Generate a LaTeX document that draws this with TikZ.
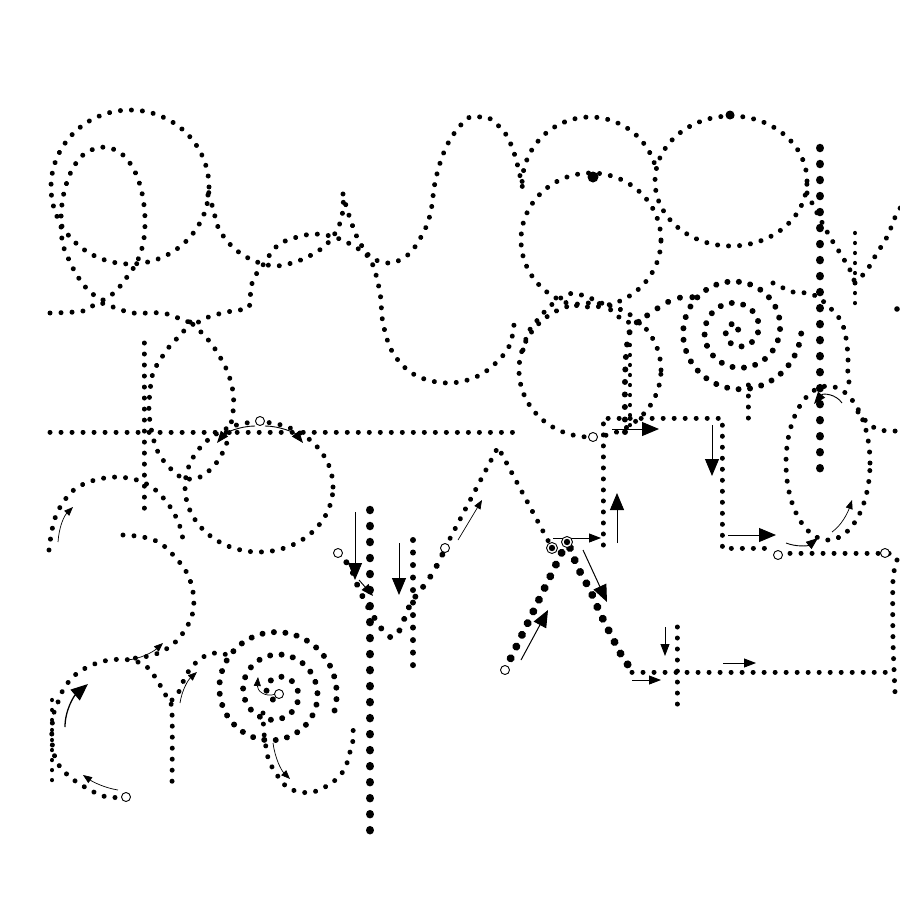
\documentclass[tikz,border=0pt]{standalone}
\usetikzlibrary{arrows.meta}
\tikzset{
  dotS/.style={line width=5pt, dash pattern=on 0.01pt off 11pt, line cap=round},
  dotSp/.style={line width=6pt, dash pattern=on 0.01pt off 11.5pt, line cap=round},
  dotT/.style={line width=4.3pt, dash pattern=on 0.01pt off 10pt, line cap=round},
  dotM/.style={line width=6pt, dash pattern=on 0.01pt off 12.5pt, line cap=round},
  dotL/.style={line width=8.5pt, dash pattern=on 0.01pt off 16pt, line cap=round},
  dotLL/.style={line width=8pt, dash pattern=on 0.01pt off 13pt, line cap=round},
  thinarr/.style={line width=0.7pt, -{Triangle[length=9pt,width=7pt]}},
  medarr/.style={line width=0.9pt, -{Triangle[length=12pt,width=9pt]}},
  bigarr/.style={line width=1pt, -{Triangle[length=17pt,width=14pt]}},
  ocirc/.style={fill=white, line width=0.9pt},
}
\begin{document}
\begin{tikzpicture}[x=1pt,y=-1pt]
\useasboundingbox (0,0) rectangle (900,900);
\fill[white] (0,0) rectangle (900,900);

% ---- top left: circle and loops
\draw[dotS] (130,187) ellipse [x radius=79pt, y radius=77pt];
\draw[dotS] plot[smooth, tension=0.6] coordinates {(103,300) (90,292) (78,277) (70,262) (63,245) (61,225) (62,204) (66,185) (73,168) (83,155) (97,148) (110,148) (123,155) (133,168) (140,185) (144,205) (145,225) (143,244) (137,262) (127,277) (115,292) (103,300)};
\draw[dotS] plot[smooth, tension=0.6] coordinates {(50,313) (83,311) (98,303) (113,307) (133,313) (162,313) (181,319) (195,323) (211,316) (232,311) (248,308) (250,298) (253,280) (263,265) (277,246) (294,238) (315,234) (337,238) (360,250) (372,263) (380,293) (383,323) (393,353) (415,375) (448,383) (480,375) (505,353) (513,333) (514,315)};
\draw[dotS] plot[smooth, tension=0.6] coordinates {(208,195) (213,208) (218,227) (228,242) (240,253) (257,262) (277,266) (298,261) (313,254) (327,244) (338,228) (343,210) (343,194)};
\draw[dotS] plot[smooth, tension=0.6] coordinates {(343,194) (347,209) (353,227) (360,243) (372,258) (391,263) (409,254) (421,237) (428,222) (432,205) (434,188) (438,170) (444,152) (453,135) (468,118) (479,117) (489,118) (505,133) (513,150) (518,167) (523,190)};

% ---- top middle/right circles
\draw[dotS] plot[domain=177:13, samples=40, variable=\t] ({590+68*cos(\t)},{185-68*sin(\t)});
\draw[dotS] (731,181) ellipse [x radius=76pt, y radius=65pt];
\fill (730,115) circle [radius=4.5pt];
\draw[dotS] (591,240) ellipse [x radius=70pt, y radius=67pt];
\fill (593,177) circle [radius=5.5pt];
\draw[dotS] (590,370) ellipse [x radius=71pt, y radius=67pt];
\draw[dotS] plot[smooth, tension=0.6] coordinates {(523,350) (528,333) (535,323) (548,308) (558,300) (568,294) (578,294) (595,300) (605,305) (613,312) (623,320) (632,323) (640,323)};
\draw[dotM] plot[smooth, tension=0.6] coordinates {(625,432) (625,380) (627,345) (632,327) (645,317) (658,308) (670,301) (684,297) (700,298)};
\draw[dotT] (630,345) -- (630,430);

% Y shape
\draw[dotS] plot[smooth, tension=0.6] coordinates {(807,193) (812,203) (817,213) (830,237) (840,253) (850,270) (855,283)};
\draw[dotS] plot[smooth, tension=0.6] coordinates {(855,283) (867,270) (877,253) (887,237) (897,213) (903,205)};
\draw[dotT] (855,233) -- (855,312);
\fill (897,309) circle [radius=2.8pt];

% right spiral
\draw[dotSp] plot[domain=20:1080, samples=300, variable=\t] ({737+\t/360*21.5*cos(\t)},{330-\t/360*21.5*sin(\t)});
\draw[dotS] (748,385) -- (748,425);
\draw[dotS] plot[smooth, tension=0.6] coordinates {(773,283) (793,292) (807,293) (818,297) (827,305) (835,313) (842,323) (846,338) (848,357) (848,377) (852,392)};

% big vertical x=820
\draw[dotL] (820,148) -- (820,478);

% ellipse right
\draw[dotS] (828,463) ellipse [x radius=42pt, y radius=77pt];
\draw[dotS] plot[smooth, tension=0.6] coordinates {(858,412) (868,423) (880,430) (900,431)};

% long horizontal y=432
\draw[dotS] (50,432) -- (520,432);
% vertical x=144
\draw[dotS] (144,343) -- (144,515);

% lower teardrop
\draw[dotS] plot[smooth, tension=0.6] coordinates {(190,322) (180,336) (173,342) (162,357) (153,373) (150,392) (149,412) (152,433) (157,450) (163,460) (172,470) (183,478) (198,478) (213,467) (223,452) (227,442) (233,412) (233,392) (228,373) (220,357) (210,342) (197,328) (190,322)};

% circle H
\draw[dotS] (259,487) ellipse [x radius=74pt, y radius=65pt];

% arc I
\draw[dotS] plot[smooth, tension=0.6] coordinates {(49,550) (52,530) (57,513) (67,497) (78,487) (95,480) (116,477) (137,480) (153,488) (165,500) (175,515) (182,533) (182,543)};
% J1
\draw[dotS] plot[smooth, tension=0.6] coordinates {(123,535) (143,537) (160,543) (175,557) (187,573) (193,592) (193,612) (185,630) (172,645) (153,655) (127,659)};
% J2
\draw[dotS] plot[smooth, tension=0.6] coordinates {(126,797) (107,797) (90,790) (70,777) (57,762) (52,742) (53,717) (57,705) (63,690) (75,675) (92,665) (110,660) (130,660) (147,667) (160,685) (168,700) (172,712) (172,785)};
\draw[dotT] (52,700) -- (52,790);
% e arc
\draw[dotS] plot[smooth, tension=0.6] coordinates {(172,700) (180,690) (185,677) (192,667) (200,659) (210,654) (220,653) (230,656)};
% spiral K
\draw[dotSp] plot[domain=20:1100, samples=300, variable=\t] ({279-\t/1100*7+\t/360*21.5*cos(\t)},{694-\t/1100*3+\t/360*21.5*sin(\t)});
\draw[dotS] plot[smooth, tension=0.6] coordinates {(263,713) (264,733) (267,753) (270,763) (277,775) (287,787) (300,792) (313,792) (325,787) (333,782) (342,773) (347,763) (350,752) (353,740) (353,723)};

% M / V
\draw[dotL] (370,510) -- (370,838);
\draw[dotM] (413,540) -- (413,666);
\draw[dotM] plot[smooth, tension=0.5] coordinates {(338,553) (347,563) (353,573) (358,587) (367,605) (377,622) (384,632) (390,637) (397,635) (403,622) (410,605) (418,593) (427,582) (433,572) (440,560) (445,548)};
\draw[dotS] (445,548) -- (498,447) -- (552,548);

% Lambda bottom
\draw[dotLL] (505,670) -- (562,552);
\draw[dotLL] plot[smooth, tension=0.4] coordinates {(570,548) (578,568) (590,590) (600,613) (612,637) (623,658) (632,670)};
\draw[dotS] (632,672) -- (895,672);
\draw[dotS] (677,627) -- (677,710);
\draw[dotS] plot[smooth, tension=0.5] coordinates {(897,560) (893,580) (893,640) (895,692)};

% rectangle path
\draw[dotS] (603,545) -- (603,418) -- (722,418) -- (722,548) -- (770,548);
\draw[dotS] (790,553) -- (900,553);

% ---- arrows
\draw[medarr] (255,426) .. controls (240,426) and (225,433) .. (217,443);
\draw[medarr] (265,426) .. controls (280,426) and (295,433) .. (303,443);
\draw[thinarr] (58,542) .. controls (59,527) and (64,516) .. (73,507);
\draw[thinarr] (127,660) .. controls (140,659) and (153,652) .. (163,643);
\draw[bigarr, line width=1.3pt] (65,727) .. controls (65,710) and (74,696) .. (88,684);
\draw[thinarr] (118,790) .. controls (105,788) and (93,782) .. (83,775);
\draw[thinarr] (180,703) .. controls (182,690) and (188,680) .. (197,672);
\draw[thinarr] (276,694) .. controls (264,698) and (257,690) .. (258,677);
\draw[thinarr] (273,743) .. controls (275,758) and (281,770) .. (290,779);
\draw[bigarr] (355,512) -- (355,580);
\draw[bigarr] (399,543) -- (399,595);
\draw[medarr] (359,580) -- (373,596);
\draw[thinarr] (458,540) -- (482,500);
\draw[bigarr] (521,660) -- (548,610);
\draw[medarr] (553,538) -- (601,538);
\draw[bigarr] (583,550) -- (607,602);
\draw[bigarr] (617,543) -- (617,493);
\draw[bigarr] (612,429) -- (659,429);
\draw[bigarr] (712,425) -- (712,476);
\draw[bigarr] (728,535) -- (776,535);
\draw[medarr] (665,627) -- (665,656);
\draw[medarr] (632,680) -- (661,680);
\draw[medarr] (723,663) -- (756,663);
\draw[medarr] (842,403) .. controls (836,394) and (823,393) .. (814,404);
\draw[medarr] (786,543) .. controls (796,547) and (808,546) .. (818,538);
\draw[thinarr] (832,532) .. controls (842,525) and (848,512) .. (852,500);

% ---- open circles
\foreach \p in {(260,421),(338,553),(445,548),(505,670),(593,437),(778,555),(885,553),(126,797),(279,694)}
  \draw[ocirc] \p circle [radius=4.5pt];
\foreach \p in {(552,548),(567,542)} {
  \draw[ocirc] \p circle [radius=5.5pt];
  \fill \p circle [radius=3.2pt];
}
\end{tikzpicture}
\end{document}
